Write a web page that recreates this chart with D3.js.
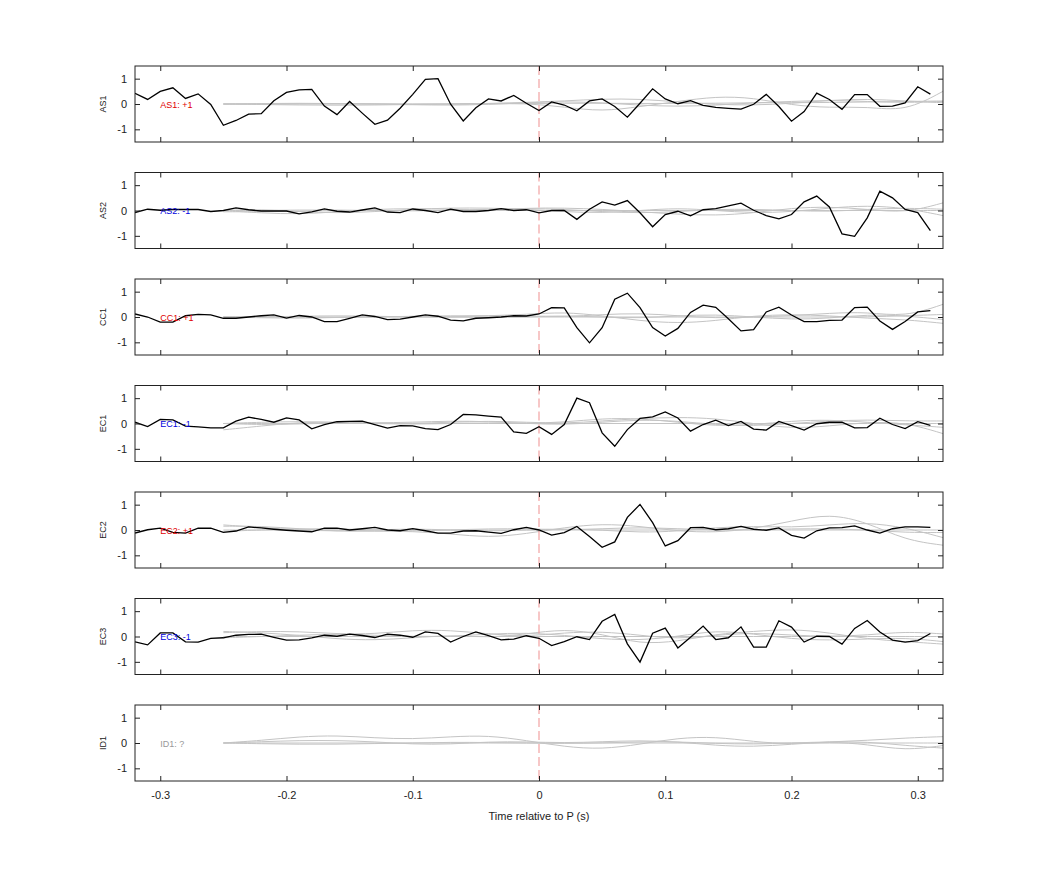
<!DOCTYPE html>
<html>
<head>
<meta charset="utf-8">
<script src="https://cdn.jsdelivr.net/npm/d3@7"></script>
<style>
body{margin:0;background:#fff;}
svg text{font-family:"Liberation Sans",Arial,sans-serif;}
</style>
</head>
<body>
<div id="chart"></div>
<script>
// stations and polarity labels
var stations = ["AS1","AS2","CC1","EC1","EC2","EC3","ID1"];
var polarity = ["+1","-1","+1","-1","+1","-1","?"];

// black traces, sampled every 0.01 s from -0.32 to 0.31
var t0 = -0.32, dt = 0.01;
var trace_AS1 = [0.42,0.18,0.5,0.64,0.22,0.4,-0.02,-0.84,-0.65,-0.4,-0.38,0.13,0.46,0.56,0.58,-0.08,-0.42,0.1,-0.36,-0.8,-0.64,-0.17,0.38,0.97,1.0,-0.01,-0.67,-0.15,0.2,0.12,0.34,0.03,
  -0.26,0.08,-0.04,-0.27,0.12,0.2,-0.1,-0.52,0.03,0.6,0.2,0.01,0.13,-0.05,-0.13,-0.17,-0.2,-0.01,0.38,-0.1,-0.68,-0.3,0.43,0.18,-0.21,0.37,0.37,-0.09,-0.08,0.04,0.68,0.39];
var trace_AS2 = [-0.08,0.05,0.01,0.04,0.04,0.04,-0.04,0.0,0.1,0.03,-0.02,-0.02,-0.02,-0.13,-0.05,0.06,-0.03,-0.06,0.02,0.1,-0.06,-0.08,0.06,0.0,-0.08,0.05,-0.04,-0.04,0.0,0.07,0.0,0.03,
  -0.09,0.0,0.0,-0.35,0.05,0.34,0.21,0.39,-0.09,-0.64,-0.16,-0.03,-0.21,0.03,0.07,0.18,0.29,0.01,-0.2,-0.33,-0.16,0.34,0.57,0.14,-0.92,-1.02,-0.29,0.76,0.5,0.04,-0.08,-0.79];
var trace_CC1 = [0.12,0.0,-0.2,-0.2,0.05,0.1,0.08,-0.05,-0.05,0.0,0.05,0.08,-0.04,0.06,0.0,-0.18,-0.18,-0.05,0.08,0.02,-0.1,-0.08,0.0,0.08,0.03,-0.12,-0.15,-0.05,-0.03,0.0,0.05,0.04,
  0.12,0.37,0.36,-0.42,-1.02,-0.42,0.7,0.94,0.37,-0.42,-0.75,-0.45,0.18,0.47,0.38,-0.07,-0.55,-0.5,0.2,0.39,0.08,-0.18,-0.18,-0.13,-0.12,0.37,0.39,-0.16,-0.49,-0.18,0.2,0.25];
var trace_EC1 = [0.05,-0.12,0.16,0.14,-0.1,-0.13,-0.17,-0.17,0.09,0.25,0.16,0.05,0.22,0.14,-0.21,-0.04,0.07,0.08,0.09,-0.04,-0.18,-0.08,-0.09,-0.2,-0.24,-0.04,0.36,0.34,0.29,0.25,-0.33,-0.39,
  -0.13,-0.43,-0.04,1.0,0.82,-0.37,-0.9,-0.24,0.2,0.26,0.46,0.22,-0.3,-0.04,0.13,-0.08,0.08,-0.22,-0.26,0.08,-0.08,-0.26,-0.01,0.05,0.05,-0.17,-0.16,0.21,-0.04,-0.2,0.07,-0.07];
var trace_EC2 = [-0.12,0.01,0.07,-0.09,-0.12,0.07,0.07,-0.09,-0.04,0.12,0.08,0.03,-0.01,-0.04,-0.07,0.07,0.07,0.0,0.05,0.1,0.0,-0.03,0.05,-0.03,-0.12,-0.12,-0.04,-0.03,-0.08,-0.13,0.01,0.1,
  0.0,-0.2,-0.1,0.14,-0.26,-0.68,-0.47,0.5,1.01,0.29,-0.63,-0.42,0.09,0.1,0.01,0.05,0.14,0.03,-0.01,0.08,-0.21,-0.32,-0.03,0.08,0.09,0.16,0.0,-0.12,0.05,0.12,0.12,0.1];
var trace_EC3 = [-0.21,-0.33,0.14,0.14,-0.21,-0.22,-0.07,-0.05,0.05,0.08,0.09,-0.03,-0.14,-0.13,-0.05,0.05,0.01,0.09,0.04,-0.04,0.09,0.05,-0.03,0.18,0.12,-0.22,0.0,0.18,0.03,-0.13,-0.1,0.03,
  -0.07,-0.36,-0.2,-0.01,-0.12,0.6,0.87,-0.29,-1.01,0.13,0.33,-0.45,-0.03,0.41,-0.12,-0.05,0.38,-0.42,-0.42,0.62,0.37,-0.22,0.01,0.0,-0.3,0.32,0.63,0.18,-0.14,-0.22,-0.16,0.12];
var traces = [trace_AS1,trace_AS2,trace_CC1,trace_EC1,trace_EC2,trace_EC3,null];

// gray synthetic traces, knots every 0.03 s from -0.25 to 0.32
var g0 = -0.25, gdt = 0.03;
var gray_AS1 = [
  [0,-0.02,-0.04,-0.05,-0.04,-0.02,0,0.02,0.06,0.12,0.2,0.2,0.08,-0.02,-0.05,0.02,0.15,0.2,0.12,0.05],
  [0,0,0.01,0.02,0.01,-0.01,0,0.02,0.03,-0.12,-0.3,-0.1,0.1,0.3,0.25,-0.05,-0.15,-0.1,-0.3,0.5],
  [0,0.02,0.03,0.02,0,-0.03,-0.05,-0.02,0.05,0.1,0.05,-0.05,-0.1,-0.05,0.05,0.1,0.15,0.1,0.05,0.1],
  [0,0,0,0,0,0,0,0,0.02,0.03,0.03,0.02,0.02,0.03,0.05,0.05,0.06,0.08,0.1,0.12]];
var gray_AS2 = [
  [0,-0.1,-0.15,-0.05,0.05,0.08,0.05,0,0.1,0.1,0.05,-0.05,-0.15,-0.2,-0.1,0.1,0.15,0.05,-0.1,0.3],
  [0,0.05,-0.05,-0.1,-0.05,0.05,0.1,0.1,0.05,-0.05,-0.1,0,0.1,0,-0.1,-0.05,0.1,0.2,0.1,-0.2],
  [0,0,0.02,0.02,0,-0.02,0,0.05,0.08,0.05,-0.05,-0.1,-0.05,0.05,0.05,0,-0.05,0.05,0.1,0.05],
  [-0.05,-0.05,-0.03,0,0,0,0,0,0,0,0,0,0,0,0,0,0,0,0,0]];
var gray_CC1 = [
  [0,0,0.03,0.05,0.03,0,0,0.05,0.1,0.2,0.05,-0.15,-0.25,-0.15,0.05,0.1,0.05,-0.05,-0.1,-0.25],
  [0,0.02,0,-0.03,0,0.03,0.05,0.05,0.05,0,0.1,0.15,0.05,-0.05,0,0.05,0.15,0.2,0,0.5],
  [0,-0.03,-0.05,-0.02,0.02,0.02,0,-0.02,0,0.05,0,-0.05,0.05,0.1,0,-0.1,-0.05,0.1,0.05,-0.1],
  [0,0,0,0,0,0,0,0,0,0,0,0,0,0,0,0,0,0,0.05,0.1]];
var gray_EC1 = [
  [-0.25,-0.1,0.05,0.05,0,0,0.05,0.1,0.05,0,0.1,0.2,0.25,0.2,0,-0.2,-0.1,0.05,0.05,-0.4],
  [0,0.05,0.08,0.05,0.02,0.05,0.1,0.08,0,-0.05,0.05,0.15,0.1,-0.05,-0.1,0,0.1,0.15,0.1,0.1],
  [0,-0.05,-0.02,0.02,0,-0.03,0,0.03,0,0.05,0.2,0.2,0.05,-0.1,-0.05,0.1,0.15,0.05,-0.05,-0.15],
  [0,0,0,0,0,0,0,0,0,0,0,0,0,0,0,0,0,0,0,0]];
var gray_EC2 = [
  [0.15,0.15,0.05,-0.05,-0.05,-0.05,-0.15,-0.3,-0.15,0.1,0.25,0.15,-0.05,-0.1,0.05,0.35,0.65,0.3,-0.4,-0.6],
  [0.2,0.1,0,-0.05,0,0.05,0,-0.05,0,0.05,0,-0.1,-0.05,0.1,0.15,0.1,0.2,0.3,0.1,-0.3],
  [-0.05,0,0.05,0.05,0,-0.05,0,0.05,0.05,0,0.05,0.1,0.05,0,0,0.05,0.05,0,-0.1,-0.1],
  [0,0,0,0,0,0,0,0,0,0,0,0,0,0,0,0,0,0,0,0]];
var gray_EC3 = [
  [0.2,0.15,0.05,-0.1,-0.15,-0.05,0.05,-0.05,0.1,0.3,0.1,-0.3,-0.2,0.1,0.2,0.3,0.15,-0.1,-0.2,-0.3],
  [0.15,0.2,0.2,0.1,0.1,0.25,0.25,0.1,0,0.15,0.2,0.05,-0.1,0.05,0.15,0.05,0,0.05,0.2,0.1],
  [-0.05,0,0.05,0.1,0.05,0,0,0.1,0.15,0.05,-0.1,-0.15,0,0.25,0.1,-0.1,-0.15,-0.1,-0.05,-0.2],
  [0,0,0,0,0,0,0,0,0,0,0,0,0,0,0,0,0,0,0,0]];
var gray_ID1 = [
  [0,0.1,0.25,0.3,0.2,0.15,0.25,0.3,0.1,-0.15,-0.25,-0.05,0.2,0.25,0.05,-0.05,0.05,-0.05,-0.3,-0.1],
  [0,0.05,0.1,0.1,0.05,-0.05,-0.05,0.05,0.05,0,0.05,0.1,0.05,-0.1,-0.15,-0.05,0.05,0.1,0.2,0.25],
  [0,-0.03,-0.05,-0.05,-0.02,0,0.03,0.02,0,-0.02,0,0.05,0.05,-0.02,-0.05,0,0.05,0.05,-0.1,-0.2],
  [0,0,0,0,0,0,0,0,0,0,0,0,0,0,0,0,0,0,0,0]];
var grays = [gray_AS1,gray_AS2,gray_CC1,gray_EC1,gray_EC2,gray_EC3,gray_ID1];

var x_ticks = [-0.3,-0.2,-0.1,0,0.1,0.2,0.3];
var y_ticks = [-1,0,1];

var W = 1042, H = 875;
var left = 135, right = 943, top0 = 66, step = 106.5, ph = 76;

var svg = d3.select("#chart").append("svg").attr("width",W).attr("height",H);

var x = d3.scaleLinear().domain([-0.32,0.32]).range([left,right]);
var fmt = function(d){ return String(+d.toFixed(2)); };

stations.forEach(function(st,i){
	var top = top0 + i*step;
	var y = d3.scaleLinear().domain([-1.5,1.5]).range([top+ph,top]);
	var g = svg.append("g");

	var clipId = "clip"+i;
	g.append("clipPath").attr("id",clipId).append("rect")
		.attr("x",left).attr("y",top).attr("width",right-left).attr("height",ph);
	var plot = g.append("g").attr("clip-path","url(#"+clipId+")");

	var line = d3.line().x(function(d){return x(d[0]);}).y(function(d){return y(d[1]);});

	grays[i].forEach(function(arr){
		var pts = arr.map(function(v,k){return [g0+k*gdt, v];});
		plot.append("path").attr("d", line.curve(d3.curveBasis)(pts))
			.attr("fill","none").attr("stroke","#c4c4c4").attr("stroke-width",1);
	});

	plot.append("line").attr("x1",x(0)).attr("x2",x(0)).attr("y1",top).attr("y2",top+ph)
		.attr("stroke","#ef8f8f").attr("stroke-width",1).attr("stroke-dasharray","9,4");

	if(traces[i]){
		var pts = traces[i].map(function(v,k){return [t0+k*dt, v];});
		plot.append("path").attr("d", line.curve(d3.curveLinear)(pts))
			.attr("fill","none").attr("stroke","#000").attr("stroke-width",1.3);
	}

	var col = polarity[i]=="+1" ? "#e00000" : (polarity[i]=="-1" ? "#0000dd" : "#999");
	g.append("text").attr("x",x(-0.3)).attr("y",y(0)+3.5).attr("font-size",9)
		.attr("fill",col).text(st+": "+polarity[i]);

	// axes with inward ticks
	var bottom = d3.axisBottom(x).tickValues(x_ticks).tickSizeInner(-5).tickSizeOuter(0)
		.tickFormat(i==stations.length-1 ? fmt : "");
	var ga = g.append("g").attr("transform","translate(0,"+(top+ph)+")").call(bottom);
	ga.selectAll("text").attr("dy","1.4em").attr("font-size",11).attr("fill","#222");
	g.append("g").attr("transform","translate(0,"+top+")")
		.call(d3.axisTop(x).tickValues(x_ticks).tickSizeInner(-5).tickSizeOuter(0).tickFormat(""));
	var gl = g.append("g").attr("transform","translate("+left+",0)")
		.call(d3.axisLeft(y).tickValues(y_ticks).tickSizeInner(-5).tickSizeOuter(0).tickFormat(fmt));
	gl.selectAll("text").attr("x",-8).attr("font-size",11).attr("fill","#222");
	g.append("g").attr("transform","translate("+right+",0)")
		.call(d3.axisRight(y).tickValues(y_ticks).tickSizeInner(-5).tickSizeOuter(0).tickFormat(""));
	g.selectAll(".domain").remove();
	g.selectAll(".tick line").attr("stroke","#222");

	g.append("rect").attr("x",left).attr("y",top).attr("width",right-left).attr("height",ph)
		.attr("fill","none").attr("stroke","#222").attr("stroke-width",1);

	g.append("text").attr("transform","translate(106,"+y(0)+") rotate(-90)")
		.attr("text-anchor","middle").attr("font-size",9).attr("fill","#222").text(st);
});

svg.append("text").attr("x",x(0)).attr("y",820).attr("text-anchor","middle")
	.attr("font-size",11).attr("fill","#222").text("Time relative to P (s)");
</script>
</body>
</html>
